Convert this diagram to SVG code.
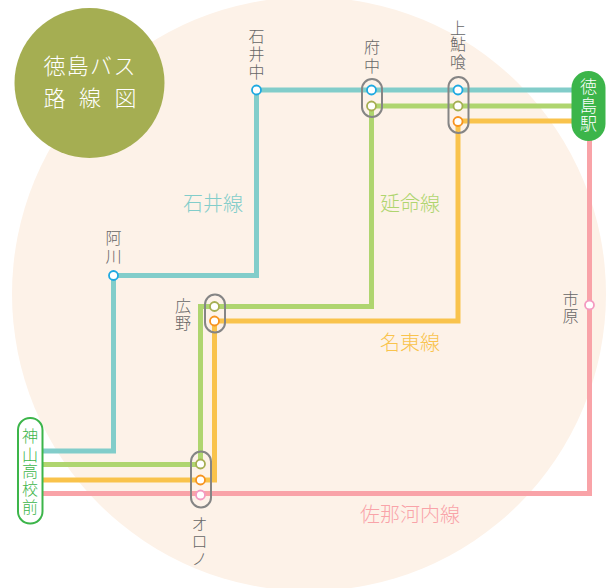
<svg xmlns="http://www.w3.org/2000/svg" width="606" height="588" viewBox="0 0 606 588">
<style>
text{font-family:"Noto Sans CJK JP","Noto Sans CJK SC",sans-serif;font-weight:300;text-anchor:middle}
.line{fill:none;stroke-width:5;stroke-linejoin:miter}
.st{fill:#fff;stroke-width:1.8}
.cap{fill:none;stroke:#858585;stroke-width:2}
.lb{font-size:16px;fill:#666}
.ll{font-size:20px}
.w{font-size:17px;fill:#fff}
.g{font-size:16px;fill:#3cb54a}
.t{font-size:22px;fill:#fff;text-anchor:start}
</style>
<circle cx="309" cy="294" r="297" fill="#fdf2e8"/>
<g id="connectors">
<path class="line" stroke="#82cdca" d="M42 451H113.500V275.500H256.500V90H574"/>
<path class="line" stroke="#afd56f" d="M42 464.500H200.500V306.500H371.500V106H574"/>
<path class="line" stroke="#f9c34c" d="M42 480H214.500V321H458V121H574"/>
<path class="line" stroke="#f9a3a8" d="M42 493.500H589.500V138"/>
</g>
<g id="title"><circle cx="89.500" cy="83" r="75" fill="#a5ae52"/>
<text class="t" x="43.500" y="74" letter-spacing="1.300">徳島バス</text>
<text class="t" x="43.500" y="106" letter-spacing="13.500">路線図</text></g>
<g id="n-ishiichu"><circle class="st" cx="256.500" cy="90" r="4.500" stroke="#1ea9e1"/>
<text class="lb" x="256.500" y="41.500">石</text><text class="lb" x="256.500" y="60">井</text><text class="lb" x="256.500" y="78">中</text></g>
<g id="n-fuchu"><rect class="cap" x="362" y="79" width="20" height="38" rx="10"/>
<circle class="st" cx="371.500" cy="90" r="4.500" stroke="#1ea9e1"/><circle class="st" cx="371.500" cy="106" r="4.500" stroke="#a5ae52"/>
<text class="lb" x="372" y="53">府</text><text class="lb" x="372" y="71.500">中</text></g>
<g id="n-akui"><rect class="cap" x="448.500" y="77" width="20" height="56" rx="10"/>
<circle class="st" cx="458" cy="90" r="4.500" stroke="#1ea9e1"/><circle class="st" cx="458" cy="106" r="4.500" stroke="#a5ae52"/><circle class="st" cx="458" cy="121.500" r="4.500" stroke="#f7931e"/>
<text class="lb" x="458" y="33.500">上</text><text class="lb" x="458" y="50">鮎</text><text class="lb" x="458" y="67.500">喰</text></g>
<g id="n-tokushima"><rect x="571.500" y="71" width="34" height="70" rx="17" fill="#3cb54a"/>
<text class="w" x="588.500" y="93.400">徳</text><text class="w" x="588.500" y="112.400">島</text><text class="w" x="588.500" y="130.400">駅</text></g>
<g id="n-agawa"><circle class="st" cx="113.500" cy="275.500" r="4.500" stroke="#1ea9e1"/>
<text class="lb" x="113.500" y="244">阿</text><text class="lb" x="113.500" y="262">川</text></g>
<g id="n-hirono"><rect class="cap" x="205" y="294.500" width="20" height="38" rx="10"/>
<circle class="st" cx="214.500" cy="306.500" r="4.500" stroke="#a5ae52"/><circle class="st" cx="214.500" cy="321" r="4.500" stroke="#f7931e"/>
<text class="lb" x="183" y="312">広</text><text class="lb" x="183" y="329">野</text></g>
<g id="n-ichihara"><circle class="st" cx="589.500" cy="305" r="4.500" stroke="#f49ac1"/>
<text class="lb" x="570.500" y="305">市</text><text class="lb" x="570.500" y="322">原</text></g>
<g id="n-orono"><rect class="cap" x="191" y="451.500" width="20" height="56" rx="10"/>
<circle class="st" cx="200.500" cy="464" r="4.500" stroke="#a5ae52"/><circle class="st" cx="200.500" cy="480" r="4.500" stroke="#f7931e"/><circle class="st" cx="200.500" cy="495" r="4.500" stroke="#f49ac1"/>
<text class="lb" x="199.500" y="530">オ</text><text class="lb" x="199.500" y="547">ロ</text><text class="lb" x="199.500" y="565">ノ</text></g>
<g id="n-kamiyama"><rect x="18" y="418" width="24.500" height="105.500" rx="12" fill="#fff" stroke="#3cb54a" stroke-width="2"/>
<text class="g" x="30" y="441.500">神</text><text class="g" x="30" y="460.500">山</text><text class="g" x="30" y="476.500">高</text><text class="g" x="30" y="495">校</text><text class="g" x="30" y="512.500">前</text></g>
<g id="line-labels">
<text class="ll" x="213" y="211" fill="#82cdca">石井線</text>
<text class="ll" x="410" y="211" fill="#afd56f">延命線</text>
<text class="ll" x="410" y="350" fill="#f9c34c">名東線</text>
<text class="ll" x="410" y="522" fill="#f9a3a8">佐那河内線</text>
</g>
</svg>
